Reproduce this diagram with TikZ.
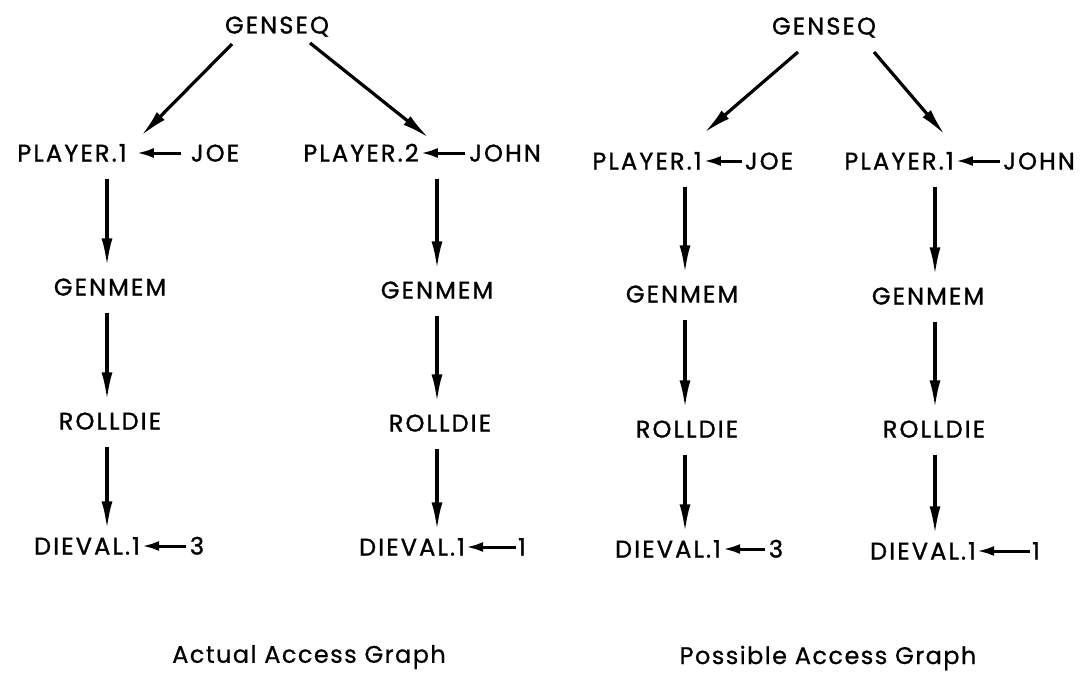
\documentclass[tikz,border=0pt]{standalone}
\usepackage{fontspec}
\setmainfont{Poppins}[LetterSpace=9,FakeBold=1.2]
\newfontfamily\capfont{Poppins}[LetterSpace=6,FakeBold=0.6]
\usetikzlibrary{arrows.meta,calc}
\tikzset{
  lbl/.style={font=\fontsize{24}{28}\selectfont, inner sep=0pt, text height=17pt, text depth=0pt, anchor=center},
  captext/.style={font=\capfont\fontsize{24}{28}\selectfont, inner sep=0pt},
  bigarrow/.style={line width=3.2pt, -{Latex[length=28pt,width=11pt]}},
  vlink/.style={bigarrow, shorten <=17pt, shorten >=12pt},
  smallarrow/.style={line width=3pt, -{Latex[length=17pt,width=10pt]}},
}
\begin{document}
\begin{tikzpicture}[x=1pt,y=-1pt]
\useasboundingbox (0,0) rectangle (1083,677);
% ---------- Actual access graph ----------
\node[lbl] (gsA) at (277,25) {GENSEQ};
\node[lbl] (p1A) at (72,153) {PLAYER.1};
\node[lbl] (joeA) at (215,153) {JOE};
\node[lbl] (p2A) at (361,153) {PLAYER.2};
\node[lbl] (johnA) at (505,153) {JOHN};
\node[lbl] (gmA1) at (110,287) {GENMEM};
\node[lbl] (rdA1) at (110,421) {ROLLDIE};
\node[lbl] (dvA1) at (87,546) {DIEVAL.1};
\node[lbl] (vA1) at (197,546) {3};
\node[lbl] (gmA2) at (437,290) {GENMEM};
\node[lbl] (rdA2) at (440,423) {ROLLDIE};
\node[lbl] (dvA2) at (412,547) {DIEVAL.1};
\node[lbl] (vA2) at (522,547) {1};
\node[captext] (capA) at (309,657) {Actual Access Graph};
\coordinate (colA1) at (107,0);
\coordinate (colA2) at (437,0);
\draw[bigarrow] ($(gsA)+(-45,19)$) -- ($(p1A)+(69,-17)$);
\draw[bigarrow] ($(gsA)+(33,18)$) -- ($(p2A)+(68,-15)$);
\draw[smallarrow, shorten <=10pt, shorten >=10pt] (joeA.west) -- (p1A.east);
\draw[smallarrow, shorten <=4pt, shorten >=2pt] (johnA.west) -- (p2A.east);
\draw[vlink] (colA1 |- p1A.south) -- (colA1 |- gmA1.north);
\draw[vlink] (colA1 |- gmA1.south) -- (colA1 |- rdA1.north);
\draw[vlink, shorten >=8pt] (colA1 |- rdA1.south) -- (colA1 |- dvA1.north);
\draw[vlink] (colA2 |- p2A.south) -- (colA2 |- gmA2.north);
\draw[vlink] (colA2 |- gmA2.south) -- (colA2 |- rdA2.north);
\draw[vlink, shorten >=8pt] (colA2 |- rdA2.south) -- (colA2 |- dvA2.north);
\draw[smallarrow, shorten <=4pt, shorten >=2pt] (vA1.west) -- (dvA1.east);
\draw[smallarrow, shorten <=2pt, shorten >=1pt] (vA2.west) -- (dvA2.east);
% ---------- Possible access graph ----------
\node[lbl] (gsP) at (824,26) {GENSEQ};
\node[lbl] (p1P) at (647,161) {PLAYER.1};
\node[lbl] (joeP) at (769,161) {JOE};
\node[lbl] (p1Q) at (899,161) {PLAYER.1};
\node[lbl] (johnQ) at (1039,161) {JOHN};
\node[lbl] (gmP1) at (682,294) {GENMEM};
\node[lbl] (rdP1) at (687,429) {ROLLDIE};
\node[lbl] (dvP1) at (668,549) {DIEVAL.1};
\node[lbl] (vP1) at (776,549) {3};
\node[lbl] (gmP2) at (928,296) {GENMEM};
\node[lbl] (rdP2) at (934,429) {ROLLDIE};
\node[lbl] (dvP2) at (923,551) {DIEVAL.1};
\node[lbl] (vP2) at (1036,551) {1};
\node[captext] (capP) at (828,658) {Possible Access Graph};
\coordinate (colP1) at (685,0);
\coordinate (colP2) at (935,0);
\draw[bigarrow] ($(gsP)+(-26,26)$) -- ($(p1P)+(57,-28)$);
\draw[bigarrow] ($(gsP)+(50,26)$) -- ($(p1Q)+(46,-26)$);
\draw[smallarrow, shorten <=3pt, shorten >=2pt] (joeP.west) -- (p1P.east);
\draw[smallarrow, shorten <=3pt, shorten >=2pt] (johnQ.west) -- (p1Q.east);
\draw[vlink] (colP1 |- p1P.south) -- (colP1 |- gmP1.north);
\draw[vlink] (colP1 |- gmP1.south) -- (colP1 |- rdP1.north);
\draw[vlink, shorten >=8pt] (colP1 |- rdP1.south) -- (colP1 |- dvP1.north);
\draw[vlink] (colP2 |- p1Q.south) -- (colP2 |- gmP2.north);
\draw[vlink] (colP2 |- gmP2.south) -- (colP2 |- rdP2.north);
\draw[vlink, shorten >=8pt] (colP2 |- rdP2.south) -- (colP2 |- dvP2.north);
\draw[smallarrow, shorten <=4pt, shorten >=2pt] (vP1.west) -- (dvP1.east);
\draw[smallarrow, shorten <=2pt, shorten >=1pt] (vP2.west) -- (dvP2.east);
\end{tikzpicture}
\end{document}
